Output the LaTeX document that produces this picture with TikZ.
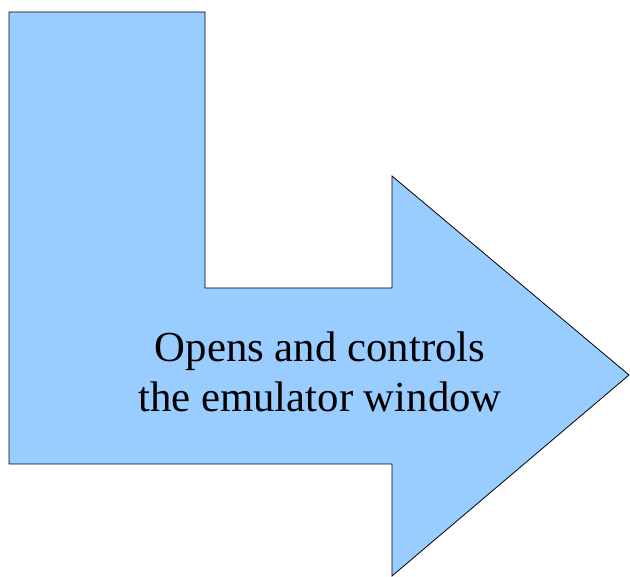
\documentclass[tikz,border=0pt]{standalone}
\usepackage{fontspec}
\setmainfont{Liberation Serif}
\usepackage{tikz}

\definecolor{arrowblue}{HTML}{99CCFF}

\begin{document}
\begin{tikzpicture}[
  x=1pt, y=-1pt,
  bentarrow/.style={fill=arrowblue, draw=black, line width=0.8pt, line join=miter},
  caption/.style={align=center, font=\fontsize{42.8}{50}\selectfont, inner sep=0pt}
]
\useasboundingbox (0,0) rectangle (630,577);
% the bent arrow
\draw[bentarrow] (9,12) -- (205,12) -- (205,288) -- (392,288) -- (392,176)
  -- (629,375) -- (392,576) -- (392,464) -- (9,464) -- cycle;
\node[caption] (label) at (320,372) {Opens and controls\\the emulator window};
\end{tikzpicture}
\end{document}
